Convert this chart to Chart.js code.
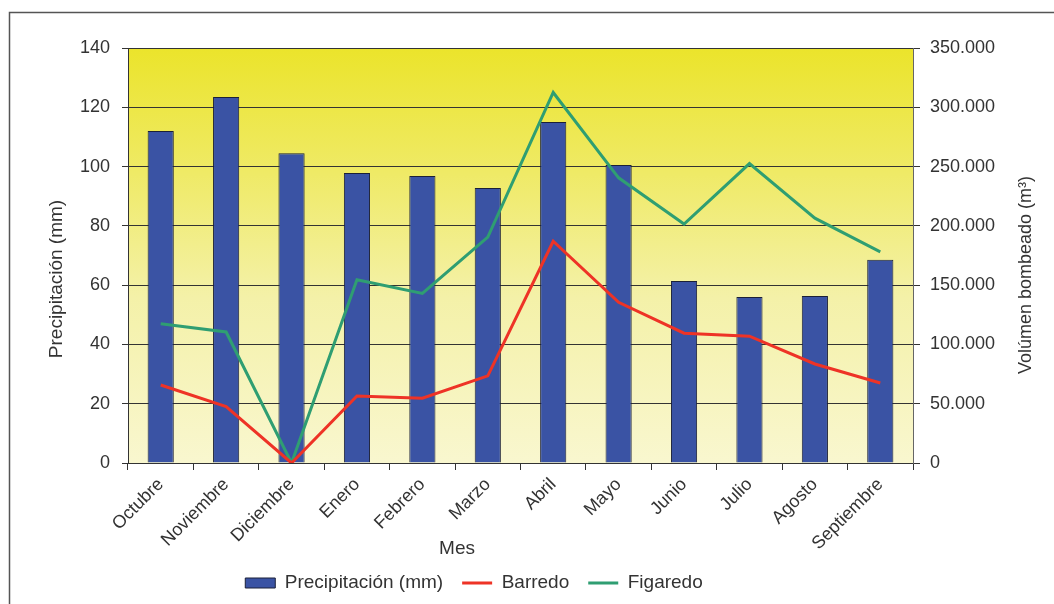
<!DOCTYPE html>
<html>
<head>
<meta charset="utf-8">
<script src="https://cdn.jsdelivr.net/npm/chart.js@4.4.0/dist/chart.umd.min.js"></script>
<style>
html, body { margin: 0; padding: 0; background: #fff; }
</style>
</head>
<body>
<canvas id="myChart" width="1054" height="604"></canvas>
<script>
const meses = ['Octubre', 'Noviembre', 'Diciembre', 'Enero', 'Febrero', 'Marzo',
    'Abril', 'Mayo', 'Junio', 'Julio', 'Agosto', 'Septiembre'];
const precipitacion = [112, 123.5, 104.5, 97.8, 96.8, 92.8, 115, 100.5, 61.4, 56, 56.3, 68.6];
const barredo = [65800, 47500, 0, 56500, 54700, 73500, 187000, 135500, 109500, 107000, 83500, 67500];
const figaredo = [117500, 110500, 0, 154500, 143000, 190500, 312500, 240500, 201500, 252500, 206500, 178000];
const ticksMm = [0, 20, 40, 60, 80, 100, 120, 140];
const ticksVol = [0, 50000, 100000, 150000, 200000, 250000, 300000, 350000];

Chart.defaults.font.family = "'Liberation Sans', Arial, sans-serif";
Chart.defaults.color = '#333';

function miles(v) {
    if (v === 0) return '0';
    let s = String(v);
    return s.slice(0, s.length - 3) + '.' + s.slice(-3);
}

// fondo degradado del area del grafico
const fondo = {
    id: 'fondo',
    beforeDraw(chart) {
        const a = chart.chartArea;
        const c = chart.ctx;
        const g = c.createLinearGradient(0, a.top, 0, a.bottom);
        g.addColorStop(0, '#ebe42b');
        g.addColorStop(0.3, '#efea66');
        g.addColorStop(0.6, '#f4f1a8');
        g.addColorStop(1, '#f9f7cf');
        c.save();
        c.fillStyle = g;
        c.fillRect(a.left, a.top, a.right - a.left, a.bottom - a.top);
        c.restore();
    }
};

// la leyenda va algo a la izquierda del centro
const moverLeyenda = {
    id: 'moverLeyenda',
    afterLayout(chart) {
        chart.legend.left -= 53;
        chart.legend.right -= 53;
    }
};

function texto(c, t, x, y, size, rot) {
    c.save();
    c.fillStyle = '#333';
    c.font = size + "px 'Liberation Sans', Arial, sans-serif";
    c.textAlign = 'center';
    c.textBaseline = 'middle';
    c.translate(x, y);
    c.rotate(rot);
    c.fillText(t, 0, 0);
    c.restore();
}

// marco y titulos de los ejes
const marco = {
    id: 'marco',
    afterDraw(chart) {
        const c = chart.ctx;
        c.save();
        c.strokeStyle = '#555';
        c.lineWidth = 1.5;
        c.beginPath();
        c.moveTo(9.5, 604);
        c.lineTo(9.5, 12.5);
        c.lineTo(1054, 12.5);
        c.stroke();
        c.restore();

        texto(c, 'Precipitación (mm)', 57, 279, 19, -Math.PI / 2);
        texto(c, 'Volúmen bombeado (m³)', 1026, 275, 18, -Math.PI / 2);
        texto(c, 'Mes', 457, 549, 19, 0);
    }
};

const ctx = document.getElementById('myChart').getContext('2d');

const myChart = new Chart(ctx, {
    data: {
        labels: meses,
        datasets: [{
            type: 'bar',
            label: 'Precipitación (mm)',
            data: precipitacion,
            yAxisID: 'y',
            backgroundColor: '#3a53a4',
            borderColor: '#1b2038',
            borderWidth: 1,
            barPercentage: 0.4,
            categoryPercentage: 1,
            pointStyle: 'rect',
            order: 2
        }, {
            type: 'line',
            label: 'Barredo',
            data: barredo,
            yAxisID: 'y1',
            borderColor: '#ee3326',
            backgroundColor: '#ee3326',
            borderWidth: 3,
            pointRadius: 0,
            tension: 0,
            pointStyle: 'line',
            order: 1
        }, {
            type: 'line',
            label: 'Figaredo',
            data: figaredo,
            yAxisID: 'y1',
            borderColor: '#2f9e72',
            backgroundColor: '#2f9e72',
            borderWidth: 3,
            pointRadius: 0,
            tension: 0,
            pointStyle: 'line',
            order: 1
        }]
    },
    options: {
        responsive: false,
        animation: false,
        devicePixelRatio: 1,
        layout: { padding: { left: 0, right: 0, top: 48, bottom: 1.5 } },
        plugins: {
            tooltip: { enabled: false },
            legend: {
                position: 'bottom',
                labels: {
                    usePointStyle: true,
                    pointStyleWidth: 30,
                    boxHeight: 10,
                    padding: 19,
                    color: '#333',
                    font: { size: 19 },
                    sort: (a, b) => a.datasetIndex - b.datasetIndex
                }
            }
        },
        scales: {
            x: {
                offset: true,
                grid: { display: true, drawOnChartArea: false, tickLength: 7, color: '#333', offset: true },
                border: { color: '#333' },
                ticks: { minRotation: 45, maxRotation: 45, autoSkip: false, padding: 4, font: { size: 18 }, color: '#333' },
                afterFit(scale) { scale.height = 91.5; }
            },
            y: {
                position: 'left',
                min: 0,
                max: 140,
                afterBuildTicks(scale) { scale.ticks = ticksMm.map(v => ({ value: v })); },
                grid: { color: '#333', tickLength: 6, lineWidth: 1 },
                border: { color: '#333' },
                ticks: { padding: 12, font: { size: 18 }, color: '#333' },
                afterFit(scale) { scale.width = 128; }
            },
            y1: {
                position: 'right',
                min: 0,
                max: 350000,
                afterBuildTicks(scale) { scale.ticks = ticksVol.map(v => ({ value: v })); },
                grid: { drawOnChartArea: false, color: '#333', tickLength: 7 },
                border: { color: '#666' },
                ticks: { padding: 10, font: { size: 18 }, color: '#333', callback: v => miles(v) },
                afterFit(scale) { scale.width = 141; }
            }
        }
    },
    plugins: [fondo, moverLeyenda, marco]
});
</script>
</body>
</html>
